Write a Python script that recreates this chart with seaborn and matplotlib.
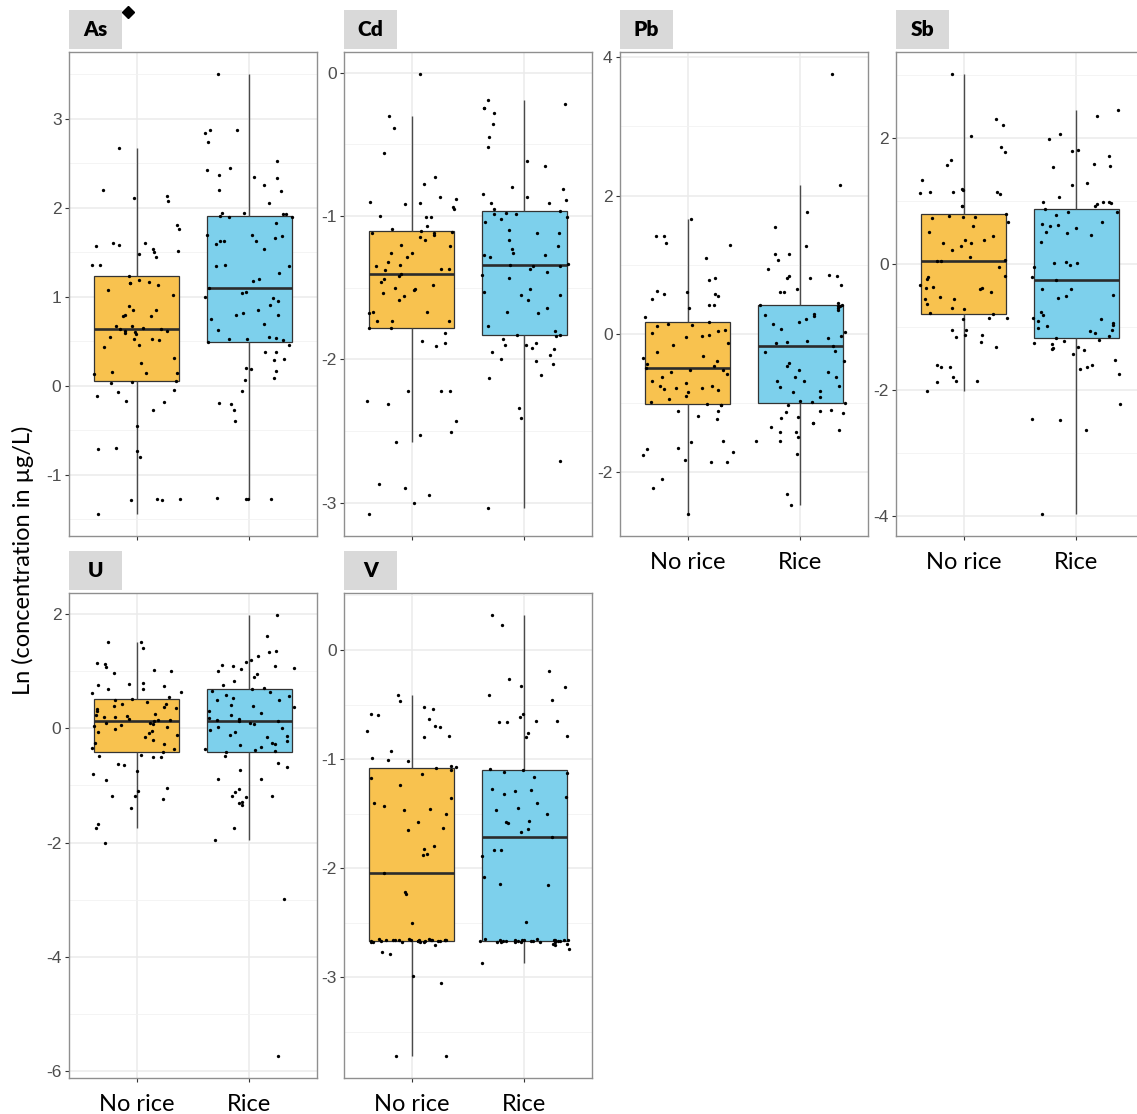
import numpy as np
import pandas as pd
import matplotlib
matplotlib.use("Agg")
import matplotlib.pyplot as plt
import seaborn as sns
from matplotlib.patches import Rectangle
from matplotlib.ticker import MultipleLocator
from matplotlib.lines import Line2D

# ---------------------------------------------------------------------------
# Ln-transformed concentrations (µg/L) per element and sampling group
# ---------------------------------------------------------------------------
GROUPS = ["No rice", "Rice"]
ELEMENTS = ["As", "Cd", "Pb", "Sb", "U", "V"]

AS_NO_RICE = [-1.44, -1.28, -1.28, -1.27, -1.27, -0.80, -0.73, -0.71, -0.70, -0.45, -0.27, -0.18,
              -0.17, -0.11, -0.07, -0.05, 0.03, 0.04, 0.058,
              0.135, 0.14, 0.14, 0.15, 0.25, 0.31, 0.43, 0.46, 0.51, 0.53, 0.53, 0.55, 0.58, 0.59,
              0.60, 0.61, 0.62, 0.633,
              0.64, 0.65, 0.67, 0.67, 0.78, 0.78, 0.79, 0.85, 0.85, 0.89, 1.02, 1.07, 1.13, 1.15,
              1.15, 1.17, 1.19, 1.228,
              1.35, 1.35, 1.44, 1.48, 1.50, 1.51, 1.54, 1.57, 1.58, 1.60, 1.60, 1.76, 1.81, 2.07,
              2.11, 2.13, 2.20, 2.67]
AS_RICE = [-1.27, -1.27, -1.27, -1.26, -0.40, -0.27, -0.20, -0.19, -0.06, 0.06, 0.09, 0.17, 0.185,
           0.20, 0.29, 0.30, 0.38, 0.38, 0.46, 0.486,
           0.51, 0.52, 0.53, 0.54, 0.55, 0.63, 0.69, 0.75, 0.79, 0.79, 0.82, 0.85, 0.91, 0.95, 0.99,
           1.00, 1.04, 1.05, 1.093,
           1.18, 1.20, 1.27, 1.34, 1.34, 1.35, 1.54, 1.59, 1.63, 1.63, 1.63, 1.66, 1.68, 1.69, 1.69,
           1.83, 1.89, 1.90, 1.911,
           1.93, 1.93, 1.94, 1.94, 2.05, 2.19, 2.20, 2.25, 2.33, 2.34, 2.37, 2.42, 2.44, 2.52, 2.74,
           2.84, 2.87, 2.87, 3.50]

CD_NO_RICE = [-3.08, -3.00, -2.95, -2.90, -2.87, -2.58, -2.53, -2.51, -2.43, -2.31, -2.29, -2.22,
              -2.22, -2.22, -1.91, -1.89, -1.87, -1.82, -1.785,
              -1.78, -1.73, -1.73, -1.73, -1.68, -1.67, -1.67, -1.59, -1.56, -1.54, -1.52, -1.51,
              -1.50, -1.48, -1.46, -1.44, -1.42, -1.402,
              -1.38, -1.37, -1.37, -1.35, -1.34, -1.32, -1.29, -1.26, -1.26, -1.21, -1.20, -1.17,
              -1.15, -1.13, -1.12, -1.12, -1.11, -1.102,
              -1.09, -1.07, -1.01, -1.01, -1.00, -0.95, -0.94, -0.92, -0.91, -0.90, -0.88, -0.87,
              -0.78, -0.73, -0.56, -0.39, -0.30, -0.01]
CD_RICE = [-3.04, -2.71, -2.41, -2.34, -2.13, -2.11, -2.03, -2.01, -2.00, -1.97, -1.95, -1.93,
           -1.92, -1.90, -1.90, -1.89, -1.86, -1.84, -1.833,
           -1.83, -1.80, -1.77, -1.68, -1.67, -1.64, -1.59, -1.55, -1.55, -1.53, -1.51, -1.43,
           -1.41, -1.39, -1.37, -1.35, -1.35, -1.340,
           -1.335, -1.29, -1.27, -1.27, -1.26, -1.23, -1.21, -1.17, -1.12, -1.12, -1.10, -1.04,
           -1.02, -1.01, -0.99, -0.99, -0.98, -0.966,
           -0.95, -0.91, -0.91, -0.89, -0.87, -0.85, -0.81, -0.80, -0.65, -0.62, -0.52, -0.45,
           -0.36, -0.28, -0.25, -0.25, -0.22, -0.19]

PB_NO_RICE = [-2.61, -2.24, -2.10, -1.86, -1.86, -1.83, -1.76, -1.71, -1.67, -1.66, -1.57, -1.55,
              -1.23, -1.19, -1.12, -1.12, -1.03, -1.03, -1.015,
              -0.99, -0.95, -0.90, -0.84, -0.82, -0.80, -0.79, -0.78, -0.76, -0.75, -0.72, -0.68,
              -0.62, -0.58, -0.55, -0.53, -0.52, -0.497,
              -0.47, -0.44, -0.40, -0.35, -0.32, -0.26, -0.17, -0.13, -0.05, -0.03, -0.02, 0.01,
              0.04, 0.05, 0.11, 0.12, 0.14, 0.166,
              0.24, 0.37, 0.42, 0.42, 0.50, 0.54, 0.57, 0.58, 0.60, 0.62, 0.78, 0.81, 1.10, 1.28,
              1.32, 1.42, 1.42, 1.66]
PB_RICE = [-2.48, -2.32, -1.74, -1.56, -1.55, -1.49, -1.42, -1.42, -1.40, -1.35, -1.29, -1.29,
           -1.22, -1.20, -1.15, -1.14, -1.12, -1.10, -1.03, -1.004,
           -0.99, -0.98, -0.91, -0.84, -0.83, -0.77, -0.75, -0.69, -0.69, -0.63, -0.63, -0.55,
           -0.52, -0.47, -0.42, -0.40, -0.27, -0.25, -0.171,
           -0.14, -0.12, -0.10, -0.06, -0.03, 0.02, 0.07, 0.14, 0.17, 0.22, 0.26, 0.27, 0.29, 0.34,
           0.37, 0.40, 0.40, 0.41, 0.422,
           0.44, 0.60, 0.60, 0.65, 0.71, 0.81, 0.81, 0.83, 0.83, 0.85, 0.93, 1.07, 1.15, 1.16,
           1.27, 1.54, 1.76, 2.15, 3.76]

SB_NO_RICE = [-2.02, -1.88, -1.86, -1.85, -1.80, -1.64, -1.63, -1.61, -1.32, -1.23, -1.16, -1.13,
              -1.12, -1.05, -1.04, -0.87, -0.85, -0.85, -0.795,
              -0.78, -0.72, -0.69, -0.64, -0.56, -0.55, -0.53, -0.44, -0.40, -0.38, -0.38, -0.36,
              -0.33, -0.23, -0.21, -0.19, -0.04, 0.047,
              0.05, 0.06, 0.12, 0.23, 0.28, 0.33, 0.34, 0.38, 0.39, 0.45, 0.51, 0.60, 0.67, 0.74,
              0.75, 0.75, 0.76, 0.795,
              0.93, 0.93, 1.12, 1.13, 1.14, 1.15, 1.15, 1.18, 1.19, 1.34, 1.57, 1.66, 1.78, 1.86,
              2.04, 2.21, 2.30, 3.02]
SB_RICE = [-3.97, -2.63, -2.47, -2.46, -2.22, -1.75, -1.67, -1.64, -1.60, -1.53, -1.43, -1.37,
           -1.35, -1.33, -1.31, -1.27, -1.25, -1.22, -1.20, -1.170,
           -1.15, -1.10, -1.07, -1.04, -1.01, -0.98, -0.96, -0.94, -0.90, -0.88, -0.85, -0.81,
           -0.76, -0.54, -0.50, -0.49, -0.40, -0.39, -0.257,
           -0.20, -0.04, -0.02, 0.01, 0.02, 0.03, 0.35, 0.47, 0.50, 0.51, 0.57, 0.60, 0.62, 0.63,
           0.67, 0.78, 0.82, 0.83, 0.871,
           0.92, 0.95, 0.97, 0.98, 0.99, 0.99, 1.06, 1.25, 1.29, 1.55, 1.56, 1.59, 1.72, 1.80,
           1.82, 1.98, 2.07, 2.36, 2.45]

U_NO_RICE = [-2.00, -1.74, -1.68, -1.40, -1.24, -1.19, -1.18, -1.10, -1.04, -0.91, -0.80, -0.75,
             -0.65, -0.63, -0.50, -0.50, -0.49, -0.47, -0.409,
             -0.36, -0.35, -0.28, -0.26, -0.20, -0.16, -0.12, -0.08, -0.06, -0.04, -0.01, 0.02,
             0.04, 0.05, 0.07, 0.09, 0.10, 0.121,
             0.14, 0.15, 0.17, 0.19, 0.20, 0.22, 0.24, 0.25, 0.30, 0.33, 0.35, 0.37, 0.39, 0.42,
             0.43, 0.46, 0.49, 0.511,
             0.55, 0.61, 0.63, 0.68, 0.69, 0.74, 0.75, 0.77, 0.79, 0.96, 1.00, 1.02, 1.07, 1.12,
             1.14, 1.41, 1.50, 1.50]
U_RICE = [-5.73, -2.98, -1.96, -1.74, -1.35, -1.31, -1.29, -1.21, -1.18, -1.18, -1.11, -1.06,
          -0.89, -0.88, -0.73, -0.68, -0.61, -0.48, -0.409,
          -0.40, -0.38, -0.36, -0.33, -0.30, -0.28, -0.26, -0.22, -0.15, -0.13, -0.11, -0.07,
          -0.03, 0.00, 0.02, 0.08, 0.10, 0.121,
          0.13, 0.15, 0.17, 0.18, 0.24, 0.26, 0.31, 0.37, 0.39, 0.40, 0.49, 0.50, 0.53, 0.57,
          0.58, 0.63, 0.66, 0.69,
          0.71, 0.75, 0.83, 0.89, 0.95, 1.00, 1.04, 1.05, 1.09, 1.09, 1.11, 1.16, 1.20, 1.27,
          1.34, 1.36, 1.62, 1.98]

V_NO_RICE = [-3.72, -3.72, -3.05, -2.99, -2.79, -2.77, -2.70, -2.68, -2.68, -2.68, -2.675, -2.675,
             -2.67, -2.67, -2.67, -2.67, -2.668, -2.666, -2.664,
             -2.662, -2.66, -2.66, -2.66, -2.66, -2.66, -2.66, -2.658, -2.655, -2.655, -2.655,
             -2.65, -2.65, -2.65, -2.50, -2.24, -2.22, -2.044,
             -1.88, -1.87, -1.82, -1.80, -1.65, -1.63, -1.58, -1.50, -1.47, -1.46, -1.43, -1.40,
             -1.36, -1.24, -1.17, -1.14, -1.10, -1.081,
             -1.07, -1.06, -1.02, -1.01, -0.99, -0.93, -0.80, -0.79, -0.74, -0.71, -0.70, -0.63,
             -0.60, -0.59, -0.54, -0.52, -0.47, -0.41]
V_RICE = [-2.87, -2.74, -2.70, -2.69, -2.69, -2.68, -2.68, -2.68, -2.675, -2.675, -2.672, -2.67,
          -2.67, -2.67, -2.67, -2.668, -2.667, -2.666, -2.664,
          -2.662, -2.66, -2.66, -2.66, -2.66, -2.658, -2.655, -2.655, -2.65, -2.65, -2.49, -2.15,
          -2.14, -2.08, -1.89, -1.83, -1.83, -1.715,
          -1.67, -1.64, -1.59, -1.58, -1.57, -1.50, -1.47, -1.45, -1.40, -1.35, -1.32, -1.29,
          -1.28, -1.27, -1.16, -1.13, -1.12, -1.10,
          -1.09, -0.80, -0.79, -0.76, -0.66, -0.66, -0.65, -0.65, -0.61, -0.59, -0.46, -0.41,
          -0.34, -0.33, -0.27, -0.19, 0.23, 0.32]

SERIES = {
    ("As", "No rice"): AS_NO_RICE, ("As", "Rice"): AS_RICE,
    ("Cd", "No rice"): CD_NO_RICE, ("Cd", "Rice"): CD_RICE,
    ("Pb", "No rice"): PB_NO_RICE, ("Pb", "Rice"): PB_RICE,
    ("Sb", "No rice"): SB_NO_RICE, ("Sb", "Rice"): SB_RICE,
    ("U", "No rice"): U_NO_RICE, ("U", "Rice"): U_RICE,
    ("V", "No rice"): V_NO_RICE, ("V", "Rice"): V_RICE,
}

df = pd.concat(
    [pd.DataFrame({"element": el, "group": grp, "value": vals})
     for (el, grp), vals in SERIES.items()],
    ignore_index=True,
)

PALETTE = {"No rice": "#F8C24F", "Rice": "#7DD0EC"}

# y-axis major tick spacing per facet
TICK_STEP = {"As": 1, "Cd": 1, "Pb": 2, "Sb": 2, "U": 2, "V": 1}
SHOW_XLABELS = {"As": False, "Cd": False, "Pb": True, "Sb": True, "U": True, "V": True}

# ---------------------------------------------------------------------------
# Figure and facet layout (pixel boxes: left, top, right, bottom)
# ---------------------------------------------------------------------------
sns.set_theme(style="white")
plt.rcParams["font.family"] = ["Lato", "DejaVu Sans"]
plt.rcParams["axes.unicode_minus"] = False

W, H = 1137, 1114
fig = plt.figure(figsize=(W / 100, H / 100), dpi=100)

COL_LEFT = [69, 344, 620, 896]
PANEL_W = 248
ROWS = [(52, 536), (593, 1078)]
POS = {"As": (0, 0), "Cd": (0, 1), "Pb": (0, 2), "Sb": (0, 3), "U": (1, 0), "V": (1, 1)}

np.random.seed(7)

for el in ELEMENTS:
    r, c = POS[el]
    top, bottom = ROWS[r]
    left = COL_LEFT[c]
    ax = fig.add_axes([left / W, 1 - bottom / H, PANEL_W / W, (bottom - top) / H])
    sub = df[df["element"] == el]

    sns.boxplot(
        data=sub, x="group", y="value", hue="group", order=GROUPS, hue_order=GROUPS,
        palette=PALETTE, saturation=1, width=0.75, showfliers=False, showcaps=False,
        linecolor="#333333", linewidth=0.9, legend=False,
        medianprops={"linewidth": 1.9, "color": "#2b2b2b"},
        whiskerprops={"color": "#4a4a4a", "linewidth": 1.0},
        ax=ax,
    )
    sns.stripplot(
        data=sub, x="group", y="value", order=GROUPS, color="black", size=2.4,
        jitter=0.4, linewidth=0, ax=ax, zorder=5,
    )

    vmin, vmax = sub["value"].min(), sub["value"].max()
    pad = 0.05 * (vmax - vmin)
    ax.set_ylim(vmin - pad, vmax + pad)
    ax.set_xlim(-0.6, 1.6)
    ax.set_xlabel("")
    ax.set_ylabel("")

    step = TICK_STEP[el]
    ax.yaxis.set_major_locator(MultipleLocator(step))
    ax.yaxis.set_minor_locator(MultipleLocator(step / 2))
    ax.set_axisbelow(True)
    ax.grid(which="major", axis="both", color="#EBEBEB", linewidth=1.1)
    ax.grid(which="minor", axis="y", color="#F2F2F2", linewidth=0.6)

    for sp in ax.spines.values():
        sp.set_visible(True)
        sp.set_color("#8f8f8f")
        sp.set_linewidth(1.0)

    ax.tick_params(axis="y", which="major", left=True, length=3.2, width=0.8,
                   color="#333333", pad=2.2, labelsize=12.5, labelcolor="#4D4D4D",
                   labelfontfamily="Liberation Sans")
    ax.tick_params(axis="y", which="minor", left=False)
    ax.tick_params(axis="x", which="major", bottom=True, length=3.2, width=0.8,
                   color="#333333", pad=8.0, labelsize=17, labelcolor="black",
                   labelbottom=SHOW_XLABELS[el])

    # facet label tab above the panel
    h_ax = bottom - top
    ax.add_patch(Rectangle((0, 1 + 3 / h_ax), 53 / PANEL_W, 38.5 / h_ax,
                           transform=ax.transAxes, facecolor="#D9D9D9",
                           edgecolor="none", clip_on=False))
    ax.text(26.5 / PANEL_W, 1 + 22.2 / h_ax, el, transform=ax.transAxes,
            ha="center", va="center", fontsize=15, fontweight="heavy", color="black")

# shared y-axis title
fig.text(23 / W, 1 - 560 / H, "Ln (concentration in µg/L)", rotation=90,
         ha="center", va="center", fontsize=17, color="black")

# small diamond marker next to the first facet label
fig.add_artist(Line2D([128 / W], [1 - 12.3 / H], marker="D", markersize=6,
                      color="black", linestyle="none", transform=fig.transFigure))

fig.savefig("out.png", dpi=100)
